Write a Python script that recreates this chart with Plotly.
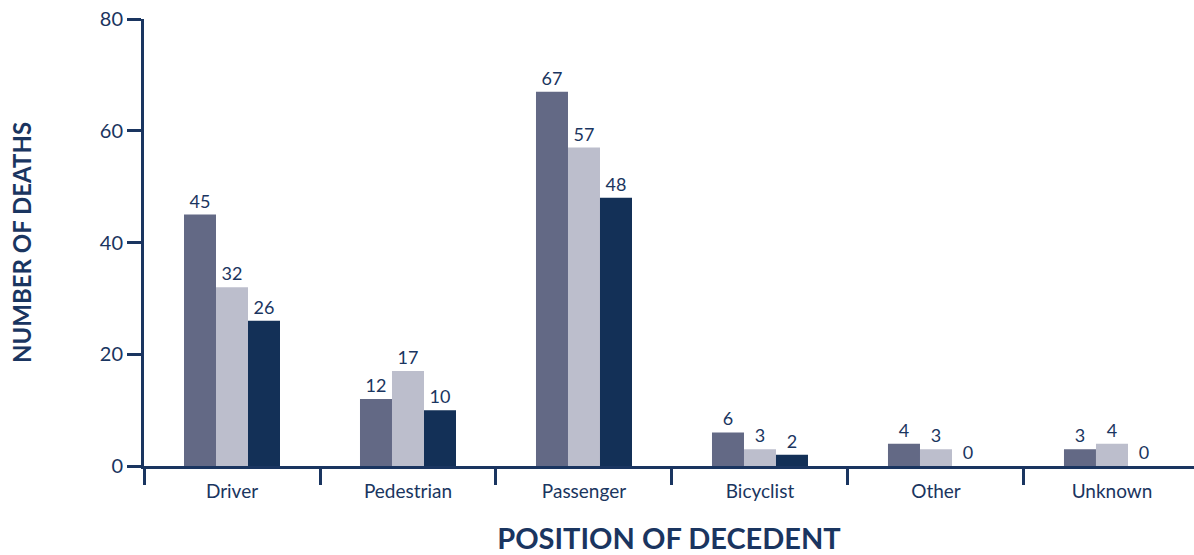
import plotly.graph_objects as go

# Deaths by position of decedent, three groups
categories = ["Driver", "Pedestrian", "Passenger", "Bicyclist", "Other", "Unknown"]
group_1 = [45, 12, 67, 6, 4, 3]
group_2 = [32, 17, 57, 3, 3, 4]
group_3 = [26, 10, 48, 2, 0, 0]
series_names = ["Group 1", "Group 2", "Group 3"]
y_ticks = [0, 20, 40, 60, 80]

colors = ["#636985", "#bcbecc", "#133057"]
navy = "#1a3560"
font_family = "Lato, 'Open Sans', sans-serif"

fig = go.Figure()
for name, vals, col in zip(series_names, [group_1, group_2, group_3], colors):
    fig.add_trace(go.Bar(
        x=categories, y=vals, name=name,
        marker=dict(color=col, line=dict(width=0)),
        text=[str(v) for v in vals],
        textposition="outside",
        textfont=dict(size=18, color=navy, family=font_family),
        cliponaxis=False,
    ))

fig.update_layout(
    width=1194, height=555,
    margin=dict(l=144, r=0, t=19, b=89),
    paper_bgcolor="white", plot_bgcolor="white",
    barmode="group", bargap=0.4545, bargroupgap=0,
    showlegend=False,
    font=dict(family=font_family, color=navy),
)

fig.update_xaxes(
    range=[-0.5, 5.466],
    showline=True, linewidth=3, linecolor=navy,
    ticks="outside", tickson="boundaries", ticklen=16, tickwidth=3, tickcolor=navy,
    tickfont=dict(size=19, color=navy, family=font_family),
    ticklabelstandoff=6,
    showgrid=False, zeroline=False,
    title=dict(text="<b>POSITION OF DECEDENT</b>", font=dict(size=29, color=navy, family=font_family), standoff=28),
)
fig.update_yaxes(
    range=[0, 80], tickvals=y_ticks,
    showline=True, linewidth=3, linecolor=navy,
    ticks="outside", ticklen=14, tickwidth=3, tickcolor=navy,
    tickfont=dict(size=20, color=navy, family=font_family),
    showgrid=False, zeroline=False,
    title=dict(text="<b>NUMBER OF DEATHS</b>", font=dict(size=24, color=navy, family=font_family), standoff=62),
)

fig.write_html("out.html")
